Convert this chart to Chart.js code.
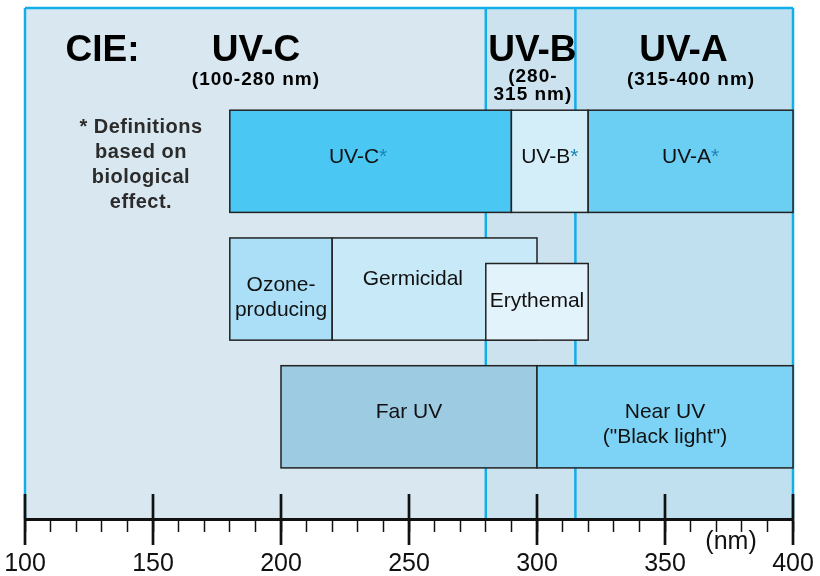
<!DOCTYPE html>
<html lang="en">
<head>
<meta charset="UTF-8">
<title>UV wavelength bands</title>
<script src="https://cdn.jsdelivr.net/npm/chart.js"></script>
<style>
  html, body { margin: 0; padding: 0; background: #fff; }
  canvas { display: block; }
</style>
</head>
<body>
<canvas id="uvChart" width="820" height="576"></canvas>
<script>
// CIE bands (nm)
const bandNames = ['UV-C', 'UV-B', 'UV-A'];
const bandFrom = [100, 280, 315];
const bandTo = [280, 315, 400];
const bandRanges = [['(100-280 nm)'], ['(280-', '315 nm)'], ['(315-400 nm)']];

// boxes: wavelength span + vertical span (0-100 units)
const boxNames = [['UV-C'], ['UV-B'], ['UV-A'], ['Ozone-', 'producing'], ['Germicidal'], ['Erythemal'], ['Far UV'], ['Near UV', '("Black light")']];
const boxFrom = [180, 290, 320, 180, 220, 280, 200, 300];
const boxTo = [290, 320, 400, 220, 300, 320, 300, 400];
const boxLow = [60, 60, 60, 35, 35, 35, 10, 10];
const boxHigh = [80, 80, 80, 55, 55, 50, 30, 30];
const boxStarred = [true, true, true, false, false, false, false, false];

const xMajor = [100, 150, 200, 250, 300, 350, 400];
const footnote = ['* Definitions', 'based on', 'biological', 'effect.'];

// styles / layout
const FONT = '"Liberation Sans", Arial, Helvetica, sans-serif';
const bandColors = ['#d9e8f0', '#cce3ef', '#c0e0ef'];
const boxColors = ['#4ac8f3', '#d3eef9', '#6bcff4', '#abdff8', '#c7e9f8', '#e3f3fb', '#9ccbe2', '#7cd3f5'];
const lineBlue = '#12aee9';
const titleX = [190.2, 298.2, 357.2];
const rangeX = [190.2, 298.4, 360.2];
const rangeY = [[84.9], [85.5, 82.0], [84.9]];
const boxTextX = [230.1, null, null, null, 251.5, null, null, null];
const boxTextY = [[69.7], [69.7], [69.7], [44.6, 39.7], [45.8], [41.5], [19.8], [19.8, 14.9]];
const footY = [75.5, 70.6, 65.8, 60.9];

function txt(ctx, s, px, py, font, color, spacing) {
  ctx.font = font;
  ctx.fillStyle = color;
  ctx.letterSpacing = spacing || '0px';
  ctx.textAlign = 'center';
  ctx.textBaseline = 'alphabetic';
  ctx.fillText(s, px, py);
}

const uvPlugin = {
  id: 'uvBands',
  beforeDraw(chart) {
    const {ctx, chartArea: a, scales: {x}} = chart;
    ctx.save();
    bandFrom.forEach((f, i) => {
      const x0 = x.getPixelForValue(f), x1 = x.getPixelForValue(bandTo[i]);
      ctx.fillStyle = bandColors[i];
      ctx.fillRect(x0, a.top, x1 - x0, a.bottom - a.top);
    });
    ctx.strokeStyle = lineBlue;
    ctx.lineWidth = 2.5;
    ctx.beginPath();
    bandFrom.concat([bandTo[bandTo.length - 1]]).forEach(v => {
      const px = x.getPixelForValue(v);
      ctx.moveTo(px, a.top);
      ctx.lineTo(px, a.bottom);
    });
    ctx.moveTo(a.left, a.top);
    ctx.lineTo(a.right, a.top);
    ctx.stroke();
    ctx.restore();
  },
  afterDraw(chart) {
    const {ctx, chartArea: a, scales: {x, y}} = chart;
    ctx.save();

    // boxes
    boxFrom.forEach((f, i) => {
      const x0 = x.getPixelForValue(f), x1 = x.getPixelForValue(boxTo[i]);
      const y0 = y.getPixelForValue(boxHigh[i]), y1 = y.getPixelForValue(boxLow[i]);
      ctx.fillStyle = boxColors[i];
      ctx.fillRect(x0, y0, x1 - x0, y1 - y0);
      ctx.strokeStyle = '#222';
      ctx.lineWidth = 1.5;
      ctx.strokeRect(x0, y0, x1 - x0, y1 - y0);
    });

    // box labels
    boxNames.forEach((lines, i) => {
      const cx = x.getPixelForValue(boxTextX[i] ?? (boxFrom[i] + boxTo[i]) / 2);
      lines.forEach((s, k) => {
        const py = y.getPixelForValue(boxTextY[i][k]);
        if (boxStarred[i]) {
          ctx.letterSpacing = '0px';
          ctx.font = '21px ' + FONT;
          const w1 = ctx.measureText(s).width;
          const w2 = ctx.measureText('*').width;
          const left = cx - (w1 + w2) / 2;
          ctx.textAlign = 'left';
          ctx.textBaseline = 'alphabetic';
          ctx.fillStyle = '#111';
          ctx.fillText(s, left, py);
          ctx.fillStyle = '#1b86b3';
          ctx.fillText('*', left + w1, py);
        } else {
          txt(ctx, s, cx, py, '21px ' + FONT, '#111');
        }
      });
    });

    // CIE titles
    const ty = y.getPixelForValue(89.6);
    txt(ctx, 'CIE:', x.getPixelForValue(130.3), ty, 'bold 37px ' + FONT, '#000');
    bandNames.forEach((n, i) => {
      txt(ctx, n, x.getPixelForValue(titleX[i]), ty, 'bold 37px ' + FONT, '#000');
      bandRanges[i].forEach((s, k) => {
        txt(ctx, s, x.getPixelForValue(rangeX[i]), y.getPixelForValue(rangeY[i][k]), 'bold 19px ' + FONT, '#000', '1px');
      });
    });

    // footnote
    footnote.forEach((s, k) => {
      txt(ctx, s, x.getPixelForValue(145.3), y.getPixelForValue(footY[k]), 'bold 20px ' + FONT, '#2b2b2b', '0.5px');
    });

    // unit label
    txt(ctx, '(nm)', x.getPixelForValue(375.8), y.getPixelForValue(-5.9), '25px ' + FONT, '#111');

    // long major ticks
    ctx.strokeStyle = '#111';
    ctx.lineWidth = 2.7;
    ctx.beginPath();
    xMajor.forEach(v => {
      const px = x.getPixelForValue(v);
      ctx.moveTo(px, y.getPixelForValue(4.9));
      ctx.lineTo(px, a.bottom + 26);
    });
    ctx.stroke();
    ctx.restore();
  }
};

const ctx = document.getElementById('uvChart').getContext('2d');
new Chart(ctx, {
  type: 'scatter',
  data: { datasets: [] },
  options: {
    responsive: false,
    animation: false,
    layout: { padding: { left: 25, right: 27, top: 8, bottom: 0 } },
    plugins: { legend: { display: false }, tooltip: { enabled: false } },
    scales: {
      x: {
        type: 'linear',
        min: 100,
        max: 400,
        afterFit: scale => { scale.height = 57; },
        ticks: {
          stepSize: 10,
          maxTicksLimit: 40,
          autoSkip: false,
          maxRotation: 0,
          padding: 0,
          color: '#111',
          font: { family: FONT, size: 25, lineHeight: 2.6 },
          callback: v => (xMajor.includes(v) ? String(v) : '')
        },
        grid: { drawOnChartArea: false, tickLength: 13, tickWidth: 1.5, tickColor: '#111', color: '#111' },
        border: { color: '#111', width: 3 }
      },
      y: { type: 'linear', min: 0, max: 100, display: false }
    }
  },
  plugins: [uvPlugin]
});
</script>
</body>
</html>
